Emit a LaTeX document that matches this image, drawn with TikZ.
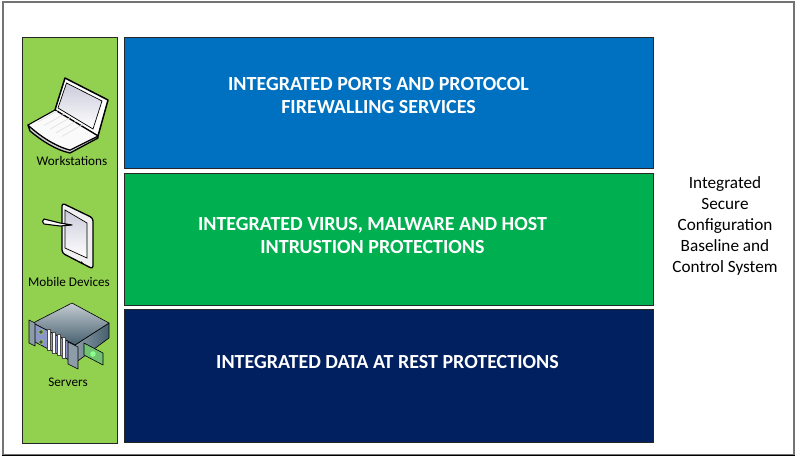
\documentclass[tikz,border=0pt]{standalone}
\usepackage{fontspec}
\setmainfont{Carlito}
\definecolor{barG}{HTML}{92D050}
\definecolor{blueB}{HTML}{0070C0}
\definecolor{greenB}{HTML}{00B050}
\definecolor{navyB}{HTML}{002060}
\definecolor{srvDark}{HTML}{46606E}
\definecolor{srvMid}{HTML}{8C9CA8}
\definecolor{srvLight}{HTML}{C4CCD2}
\tikzset{
 panel/.style={draw=black!85,line width=0.9pt,inner sep=0pt,anchor=north west},
 headline/.style={text=white,font=\bfseries\fontsize{20}{23.5}\selectfont,align=center},
 small/.style={text=black,font=\fontsize{13.2}{14}\selectfont},
 side/.style={text=black,font=\fontsize{17.2}{20.9}\selectfont,align=center},
 ic/.style={draw=black,line width=1.1pt,line join=round},
}
\begin{document}
\begin{tikzpicture}[x=1pt,y=-1pt]
\useasboundingbox (0,0) rectangle (797,458);
\fill[white] (0,0) rectangle (797,458);
\node[inner sep=0pt,minimum width=791pt,minimum height=453pt,anchor=north west,draw=black!55,line width=1.6pt] (frame) at (2,1) {};
\draw[black,line width=1.4pt] (frame.south west) -- (frame.south east);
\node[panel,fill=barG,minimum width=95pt,minimum height=406pt] (bar) at (22,37) {};
\node[panel,fill=blueB,minimum width=529pt,minimum height=131pt] (b1) at (124,37) {};
\node[panel,fill=greenB,minimum width=529pt,minimum height=132pt] (b2) at (124,173) {};
\node[panel,fill=navyB,minimum width=529pt,minimum height=133pt] (b3) at (124,309) {};
\node[headline] (t1) at (378.5,95.5) {INTEGRATED PORTS AND PROTOCOL\\FIREWALLING SERVICES};
\node[headline] (t2) at (372.5,235.5) {INTEGRATED VIRUS, MALWARE AND HOST\\INTRUSTION PROTECTIONS};
\node[headline] (t3) at (387.5,362.5) {INTEGRATED DATA AT REST PROTECTIONS};
\node[side] (s) at (725,226) {Integrated\\Secure\\Configuration\\Baseline and\\Control System};
\node[small] (w) at (72,161) {Workstations};
\node[small] (m) at (69,282) {Mobile Devices};
\node[small] (v) at (68,382) {Servers};
% laptop
\fill[ic,line width=1.5pt,fill=white] (65,78) -- (108,100) -- (98,136) -- (55,110) -- cycle;
\shade[top color=blue!18!gray!35,bottom color=white,draw=black,line width=0.7pt] (66.5,83) -- (102,101) -- (93,129) -- (58,108) -- cycle;
\fill[ic,line width=1.3pt,fill=gray!40] (28,125) -- (30,131) .. controls (42,141) and (56,150) .. (70,153) -- (98,138) -- (98,136) -- (70,150) .. controls (55,146) and (40,136) .. (28,125) -- cycle;
\fill[ic,line width=1.1pt,fill=white!96!gray] (28,125) -- (55,110) -- (98,136) -- (70,150) .. controls (55,146) and (40,136) .. (28,125) -- cycle;
\foreach \i in {0,1,2,3,4}{\draw[gray!25,line width=0.6pt] ({38+\i*6},{122+\i*3.6}) -- ({59+\i*6},{110+\i*3.6});}
% tablet
\fill[ic,line width=1.3pt,fill=white!88!gray,rounded corners=3pt] (62,203) -- (93,218) -- (93,269) -- (62,253) -- cycle;
\shade[top color=blue!18!gray!35,bottom color=white,draw=black,line width=0.7pt] (65,210) -- (87,223) -- (87,258) -- (65,248) -- cycle;
\fill[black] (81.5,262.5) circle (1.2pt);
\fill[ic,fill=white] (44,219) -- (60,223) -- (72,225) -- (60,226) -- (44,224) .. controls (42,223) and (42,220) .. (44,219) -- cycle;
% server
\shade[ic,line width=0.6pt,left color=srvMid,right color=srvDark] (75,345) -- (109,323) -- (109,338) -- (75,363) -- cycle;
\shade[ic,line width=0.6pt,top color=srvLight,bottom color=srvDark] (72,303) -- (109,323) -- (75,345) -- (33,323) -- cycle;
\fill[ic,line width=0.6pt,fill=srvMid!80!blue!80!white] (33,323) -- (75,345) -- (75,363) -- (35,342) -- cycle;
\fill[ic,line width=0.6pt,fill=srvMid] (29,320) -- (35,323) -- (35,346) -- (29,343) -- cycle;
\fill[ic,line width=0.6pt,fill=srvMid] (68,342) -- (78,347) -- (78,369) -- (68,364) -- cycle;
\foreach \i in {0,1,2,3}{\fill[white,draw=black!70,line width=0.4pt] ({47+\i*5.2},{329+\i*2.7}) rectangle ({50+\i*5.2},{350+\i*2.7});}
\fill[black!70,draw=barG,line width=0.7pt] (41,332) circle (2.2pt) (41,342) circle (2.2pt);
\fill[ic,line width=0.6pt,fill=green!40!gray!80] (84,343) -- (103,353) -- (103,365) -- (84,355) -- cycle;
\fill[white!55!green] (93,354) circle (2.8pt);
\end{tikzpicture}
\end{document}
